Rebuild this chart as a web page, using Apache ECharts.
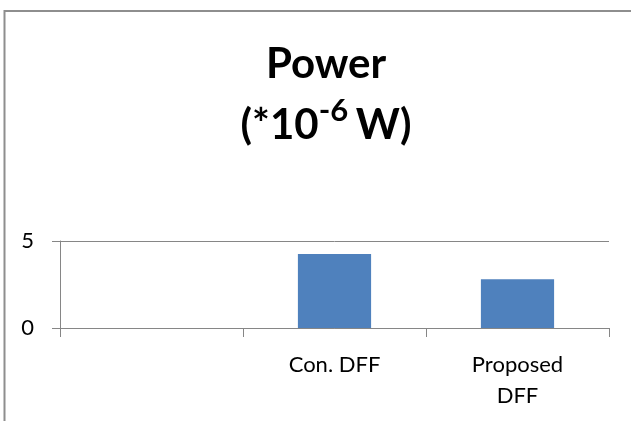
<!DOCTYPE html>
<html>
<head>
<meta charset="utf-8">
<script src="https://cdn.jsdelivr.net/npm/echarts@6/dist/echarts.min.js"></script>
<style>
html,body{margin:0;padding:0;background:#fff;}
#main{width:631px;height:421px;}
</style>
</head>
<body>
<div id="main"></div>
<script>
var categories = ['', 'Con. DFF', 'Proposed\nDFF'];
var powerValues = [null, 4.25, 2.8];
var yTicks = [0, 5];

var chart = echarts.init(document.getElementById('main'), null, {renderer: 'canvas'});
var axisColor = '#868686';
chart.setOption({
  animation: false,
  backgroundColor: '#ffffff',
  textStyle: {fontFamily: 'Lato'},
  graphic: [{
    type: 'rect',
    shape: {x: 4.5, y: 11, width: 900, height: 900},
    style: {fill: 'none', stroke: '#8e8e8e', lineWidth: 2},
    silent: true
  }],
  title: {
    text: '{a|Power}\n{a|(*10}{s|-6 }{a|W)}',
    left: 321,
    top: 29,
    textAlign: 'center',
    textStyle: {
      rich: {
        a: {fontFamily: 'Lato', fontWeight: 'bold', fontSize: 42, lineHeight: 61, color: '#000'},
        s: {fontFamily: 'Lato', fontWeight: 'bold', fontSize: 31, lineHeight: 50, verticalAlign: 'top', color: '#000'}
      }
    }
  },
  grid: {left: 60, right: 22, top: 241, bottom: 93, containLabel: false},
  xAxis: {
    type: 'category',
    data: categories,
    boundaryGap: true,
    axisLine: {show: true, lineStyle: {color: axisColor, width: 1}},
    axisTick: {show: true, length: 9, alignWithLabel: false, lineStyle: {color: axisColor}},
    axisLabel: {interval: 0, margin: 21, color: '#000', fontFamily: 'Lato', fontSize: 22, lineHeight: 31}
  },
  yAxis: {
    type: 'value',
    min: yTicks[0],
    max: yTicks[yTicks.length - 1],
    interval: 5,
    axisLine: {show: true, lineStyle: {color: axisColor, width: 1}},
    axisTick: {show: true, length: 8, lineStyle: {color: axisColor}},
    splitLine: {show: true, lineStyle: {color: axisColor, width: 1}},
    axisLabel: {margin: 26, color: '#000', fontFamily: 'Lato', fontSize: 22}
  },
  series: [{
    type: 'bar',
    data: powerValues,
    barWidth: '40%',
    itemStyle: {color: '#4f81bd'}
  }]
});
</script>
</body>
</html>
